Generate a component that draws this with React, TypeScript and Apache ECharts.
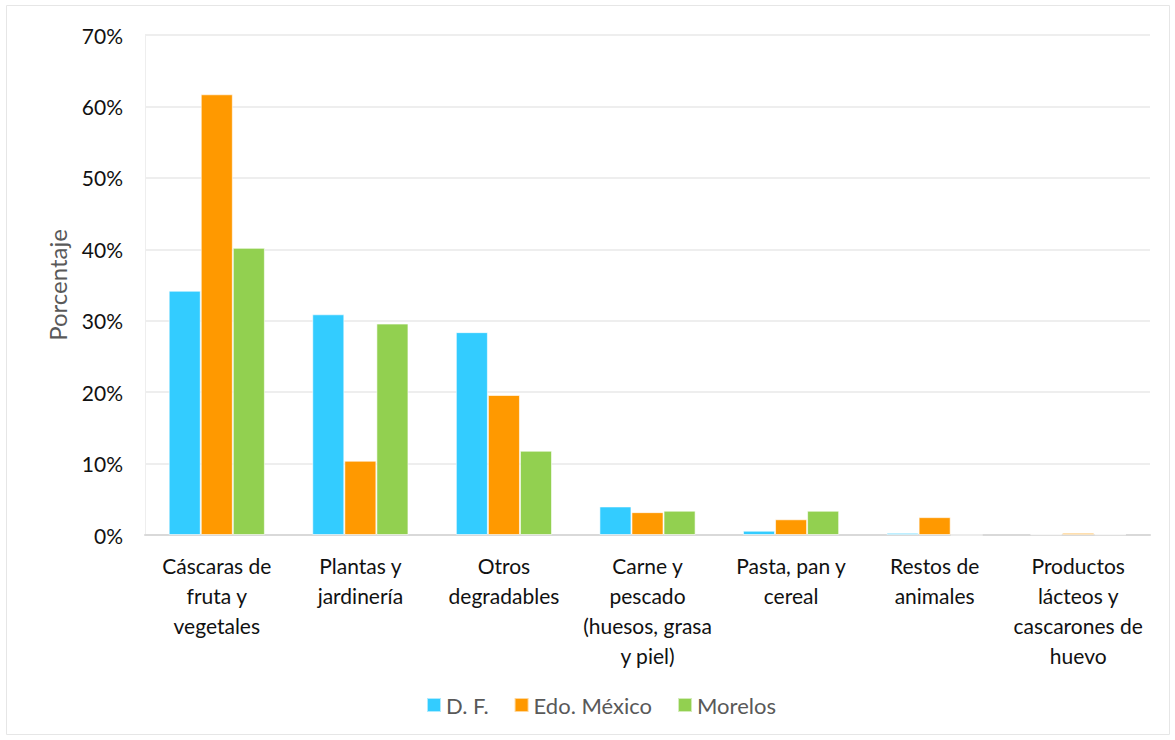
import React, { useEffect, useRef } from "react";
import * as echarts from "echarts";

const categories = [
  "Cáscaras de\nfruta y\nvegetales",
  "Plantas y\njardinería",
  "Otros\ndegradables",
  "Carne y\npescado\n(huesos, grasa\ny piel)",
  "Pasta, pan y\ncereal",
  "Restos de\nanimales",
  "Productos\nlácteos y\ncascarones de\nhuevo",
];
const seriesNames = ["D. F.", "Edo. México", "Morelos"];
const dfValues = [34.2, 30.9, 28.4, 4.0, 0.6, 0.3, 0.1];
const edoValues = [61.7, 10.4, 19.6, 3.2, 2.2, 2.5, 0.3];
const morelosValues = [40.2, 29.6, 11.8, 3.4, 3.4, 0, 0.1];
const colors = ["#33CCFF", "#FF9900", "#92D050"];
const yTicks = { min: 0, max: 70, interval: 10 };

export default function App() {
  const ref = useRef<HTMLDivElement>(null);
  useEffect(() => {
    document.body.style.margin = "0";
    const chart = echarts.init(ref.current!, null, { renderer: "svg" });
    const font = "Lato, 'Open Sans', sans-serif";
    const data = [dfValues, edoValues, morelosValues];
    chart.setOption({
      animation: false,
      backgroundColor: "#ffffff",
      textStyle: { fontFamily: font },
      graphic: [
        {
          type: "rect",
          shape: { x: 6.5, y: 5.5, width: 1163, height: 729 },
          style: { fill: "none", stroke: "#e6e6e6", lineWidth: 1 },
          silent: true,
        },
      ],
      grid: { left: 145, right: 25, top: 35, bottom: 205, containLabel: false },
      legend: {
        bottom: 19,
        left: 421,
        itemWidth: 14,
        itemHeight: 14,
        itemGap: 25,
        icon: "rect",
        textStyle: { fontSize: 22, color: "#595959", fontFamily: font },
        data: seriesNames,
      },
      xAxis: {
        type: "category",
        data: categories,
        axisLine: { lineStyle: { color: "#d9d9d9", width: 2 } },
        axisTick: { show: false },
        axisLabel: {
          interval: 0,
          fontSize: 21,
          color: "#111111",
          lineHeight: 30,
          margin: 15,
          fontFamily: font,
        },
      },
      yAxis: {
        type: "value",
        min: yTicks.min,
        max: yTicks.max,
        interval: yTicks.interval,
        name: "Porcentaje",
        nameLocation: "middle",
        nameGap: 76,
        nameRotate: 90,
        nameTextStyle: { fontSize: 24, color: "#595959", fontFamily: font },
        axisLine: { show: true, lineStyle: { color: "#eeeeee", width: 1 } },
        axisTick: { show: false },
        axisLabel: {
          formatter: "{value}%",
          fontSize: 21,
          color: "#111111",
          margin: 22,
          fontFamily: font,
        },
        splitLine: { lineStyle: { color: "#eeeeee", width: 2 } },
      },
      series: seriesNames.map((name, i) => ({
        name,
        type: "bar",
        data: data[i],
        barGap: "0%",
        barCategoryGap: "33%",
        itemStyle: { color: colors[i], borderColor: "rgba(255,255,255,0.6)", borderWidth: 1 },
      })),
    });
    return () => chart.dispose();
  }, []);
  return <div ref={ref} style={{ width: 1175, height: 740 }} />;
}
